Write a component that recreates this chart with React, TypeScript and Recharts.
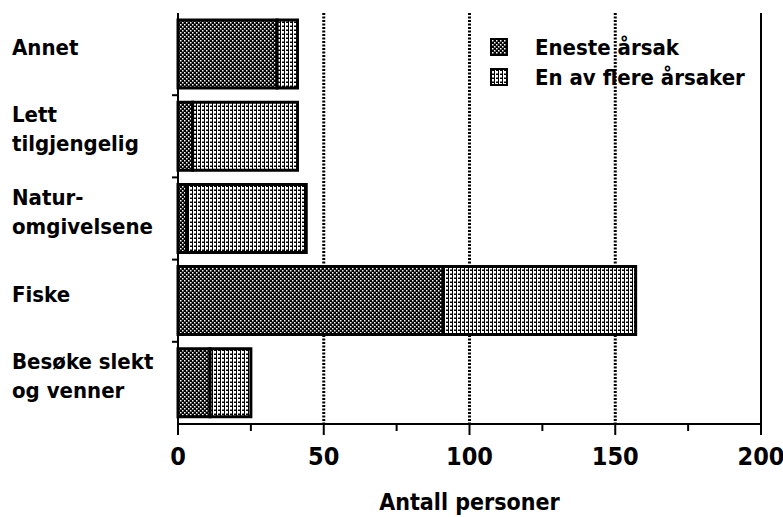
import { BarChart, Bar, XAxis, YAxis, CartesianGrid, ReferenceLine, Legend } from "recharts"

const categories = ["Annet", "Lett tilgjengelig", "Natur-omgivelsene", "Fiske", "Besøke slekt og venner"]
const labelLines = [["Annet"], ["Lett", "tilgjengelig"], ["Natur-", "omgivelsene"], ["Fiske"], ["Besøke slekt", "og venner"]]
const seriesNames = ["Eneste årsak", "En av flere årsaker"]
const eneste = [34, 5, 3, 91, 11]
const flere = [7, 36, 41, 66, 14]
const xTicks = [0, 25, 50, 75, 100, 125, 150, 175, 200]
const gridValues = [50, 100, 150]

const FONT = "'DejaVu Sans Condensed', 'DejaVu Sans', sans-serif"
const W = 783
const H = 517
const TOP = 13
const BOTTOM = 424
const BAND = (BOTTOM - TOP) / categories.length

const data = categories.map((name, i) => ({ name, eneste: eneste[i], flere: flere[i] }))

function XTick(props: any) {
  const { x, y, payload } = props
  const v = payload.value
  const major = v % 50 === 0
  return (
    <g>
      <line x1={x} x2={x} y1={y} y2={y + (major ? 11 : 7)} stroke="#000" strokeWidth={2} />
      {major && (
        <text x={x} y={y + 41} textAnchor="middle" fontFamily={FONT} fontWeight="bold" fontSize={25} fill="#000">
          {v}
        </text>
      )}
    </g>
  )
}

function YTick(props: any) {
  const { y, payload } = props
  const idx = categories.indexOf(payload.value)
  const lines = labelLines[idx] || [payload.value]
  const ys = lines.length === 1 ? [y + 1] : [y - 14, y + 15]
  return (
    <g>
      {idx > 0 && <line x1={172} x2={178} y1={y - BAND / 2} y2={y - BAND / 2} stroke="#000" strokeWidth={2} />}
      {lines.map((l, i) => (
        <text key={i} x={12} y={ys[i]} textAnchor="start" fontFamily={FONT} fontWeight="bold" fontSize={22} fill="#000">
          {l}
        </text>
      ))}
    </g>
  )
}

function LegendBox(props: any) {
  const items = [...(props.payload || [])].sort(
    (a: any, b: any) => seriesNames.indexOf(a.value) - seriesNames.indexOf(b.value)
  )
  return (
    <div style={{ fontFamily: FONT, fontWeight: "bold", fontSize: 22, color: "#000" }}>
      {items.map((p: any, i: number) => (
        <div key={i} style={{ display: "flex", alignItems: "center", height: 30, whiteSpace: "nowrap" }}>
          <svg width={18} height={18} style={{ marginRight: 27 }}>
            <rect x={1} y={1} width={16} height={16} fill={p.color} stroke="#000" strokeWidth={2} />
          </svg>
          <span>{p.value}</span>
        </div>
      ))}
    </div>
  )
}

export default function App() {
  return (
    <div style={{ position: "absolute", left: 0, top: 0, background: "#fff" }}>
      <BarChart
        width={W}
        height={H}
        data={data}
        layout="vertical"
        margin={{ top: TOP, right: 22, left: 0, bottom: 0 }}
        barSize={68}
      >
        <defs>
          <pattern id="dark" width="4" height="4" patternUnits="userSpaceOnUse">
            <rect width="4" height="4" fill="#000" />
            <rect x="0" y="0" width="1.5" height="1.5" fill="#fff" />
            <rect x="2" y="2" width="1.5" height="1.5" fill="#fff" />
          </pattern>
          <pattern id="light" width="4" height="4" patternUnits="userSpaceOnUse">
            <rect width="4" height="4" fill="#fff" />
            <rect x="0" y="0" width="1" height="4" fill="#000" />
            <rect x="2" y="1.5" width="2" height="1.5" fill="#000" />
          </pattern>
        </defs>
        <CartesianGrid
          horizontal={false}
          verticalValues={gridValues}
          stroke="#000"
          strokeWidth={3}
          strokeDasharray="2 1.5"
        />
        <XAxis
          type="number"
          domain={[0, 200]}
          ticks={xTicks}
          interval={0}
          height={H - BOTTOM}
          tickSize={0}
          tickMargin={0}
          tickLine={false}
          tick={<XTick />}
          axisLine={{ stroke: "#000", strokeWidth: 2 }}
          label={{
            value: "Antall personer",
            position: "insideBottom",
            offset: 7,
            fontFamily: FONT,
            fontWeight: "bold",
            fontSize: 23,
            fill: "#000",
          }}
        />
        <XAxis
          xAxisId="top"
          orientation="top"
          type="number"
          domain={[0, 200]}
          height={0}
          tick={false}
          tickLine={false}
          axisLine={{ stroke: "#000", strokeWidth: 2 }}
        />
        <YAxis
          type="category"
          dataKey="name"
          width={178}
          tickLine={false}
          tick={<YTick />}
          interval={0}
          axisLine={{ stroke: "#000", strokeWidth: 2 }}
        />
        <ReferenceLine x={200} stroke="#000" strokeWidth={2} />
        <Legend
          layout="vertical"
          align="center"
          verticalAlign="middle"
          content={<LegendBox />}
          wrapperStyle={{ left: 490, top: 32, width: 290 }}
        />
        <Bar
          dataKey="eneste"
          name={seriesNames[0]}
          stackId="a"
          fill="url(#dark)"
          stroke="#000"
          strokeWidth={3}
          isAnimationActive={false}
        />
        <Bar
          dataKey="flere"
          name={seriesNames[1]}
          stackId="a"
          fill="url(#light)"
          stroke="#000"
          strokeWidth={3}
          isAnimationActive={false}
        />
      </BarChart>
    </div>
  )
}
